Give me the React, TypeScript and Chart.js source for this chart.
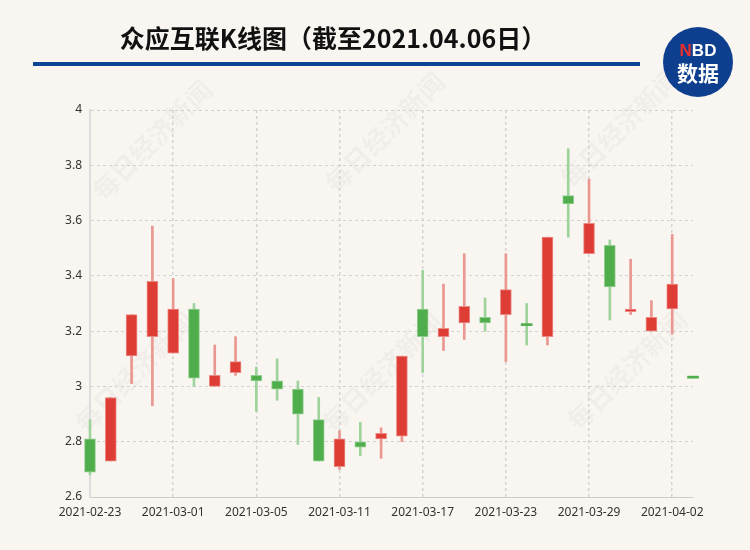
import React, { useEffect, useRef } from "react";
import { Chart, registerables } from "chart.js";

Chart.register(...registerables);

const dates = [
  "2021-02-23", "2021-02-24", "2021-02-25", "2021-02-26", "2021-03-01",
  "2021-03-02", "2021-03-03", "2021-03-04", "2021-03-05", "2021-03-08",
  "2021-03-09", "2021-03-10", "2021-03-11", "2021-03-12", "2021-03-15",
  "2021-03-16", "2021-03-17", "2021-03-18", "2021-03-19", "2021-03-22",
  "2021-03-23", "2021-03-24", "2021-03-25", "2021-03-26", "2021-03-29",
  "2021-03-30", "2021-03-31", "2021-04-01", "2021-04-02", "2021-04-06",
];
const openPrices = [
  2.81, 2.73, 3.11, 3.18, 3.12, 3.28, 3.0, 3.05, 3.04, 3.02,
  2.99, 2.88, 2.71, 2.8, 2.81, 2.82, 3.28, 3.18, 3.23, 3.25,
  3.26, 3.22, 3.18, 3.69, 3.48, 3.51, 3.27, 3.2, 3.28, 3.03,
];
const closePrices = [
  2.69, 2.96, 3.26, 3.38, 3.28, 3.03, 3.04, 3.09, 3.02, 2.99,
  2.9, 2.73, 2.81, 2.78, 2.83, 3.11, 3.18, 3.21, 3.29, 3.23,
  3.35, 3.22, 3.54, 3.66, 3.59, 3.36, 3.28, 3.25, 3.37, 3.03,
];
const highPrices = [
  2.88, 2.96, 3.26, 3.58, 3.39, 3.3, 3.15, 3.18, 3.07, 3.1,
  3.02, 2.96, 2.84, 2.87, 2.85, 3.11, 3.42, 3.37, 3.48, 3.32,
  3.48, 3.3, 3.54, 3.86, 3.75, 3.53, 3.46, 3.31, 3.55, 3.03,
];
const lowPrices = [
  2.68, 2.73, 3.01, 2.93, 3.12, 3.0, 3.0, 3.04, 2.91, 2.95,
  2.79, 2.73, 2.7, 2.75, 2.74, 2.8, 3.05, 3.13, 3.17, 3.2,
  3.09, 3.15, 3.15, 3.54, 3.48, 3.24, 3.26, 3.2, 3.19, 3.03,
];
const yMin = 2.6;
const yMax = 4;
const yStep = 0.2;
const labelEvery = 4;

const titleText = "众应互联K线图（截至2021.04.06日）";
const watermarkText = "每日经济新闻";

const UP = "#dd3d35";
const UP_BORDER = "#ec8a84";
const UP_WICK = "#ea9691";
const DOWN = "#4fad4c";
const DOWN_BORDER = "#93cf90";
const DOWN_WICK = "#9fd39c";

const isUp = (i: number) => closePrices[i] > openPrices[i];

const watermarkPlugin = {
  id: "watermarks",
  beforeDraw(chart: any) {
    const ctx = chart.ctx;
    const spots = [
      [152, 140], [385, 132], [620, 128],
      [135, 372], [382, 372], [627, 370],
    ];
    ctx.save();
    ctx.font = 'bold 26px "Noto Sans CJK SC"';
    ctx.fillStyle = "rgba(0,0,0,0.03)";
    ctx.textAlign = "center";
    ctx.textBaseline = "middle";
    for (const [x, y] of spots) {
      ctx.save();
      ctx.translate(x, y);
      ctx.rotate(-Math.PI / 4);
      ctx.fillText(watermarkText, 0, 0);
      ctx.restore();
    }
    ctx.restore();
  },
};

export default function App() {
  const canvasRef = useRef<HTMLCanvasElement | null>(null);

  useEffect(() => {
    if (!canvasRef.current) return;
    const bodies = dates.map((_, i) => [openPrices[i], closePrices[i]]);
    const wicks = dates.map((_, i) => [lowPrices[i], highPrices[i]]);
    const chart = new Chart(canvasRef.current, {
      type: "bar",
      data: {
        labels: dates,
        datasets: [
          {
            label: "body",
            data: bodies as any,
            order: 0,
            grouped: false,
            barThickness: 11,
            minBarLength: 2,
            borderSkipped: false,
            clip: false as any,
            backgroundColor: (c: any) => (isUp(c.dataIndex) ? UP : DOWN),
            borderColor: (c: any) => (isUp(c.dataIndex) ? UP_BORDER : DOWN_BORDER),
            borderWidth: (c: any) =>
              openPrices[c.dataIndex] === closePrices[c.dataIndex] ? 0 : 1,
          } as any,
          {
            label: "wick",
            data: wicks as any,
            order: 1,
            grouped: false,
            barThickness: 2,
            borderWidth: 0,
            clip: false as any,
            backgroundColor: (c: any) => (isUp(c.dataIndex) ? UP_WICK : DOWN_WICK),
          } as any,
        ],
      },
      options: {
        animation: false,
        responsive: false,
        maintainAspectRatio: false,
        layout: { padding: { left: 0, right: 57, top: 110, bottom: 0 } },
        plugins: {
          legend: { display: false },
          tooltip: { enabled: false },
          title: { display: false },
        },
        scales: {
          x: {
            type: "category",
            offset: false,
            afterFit: (s: any) => {
              s.height = 53;
            },
            grid: {
              offset: false,
              drawTicks: false,
              color: (c: any) =>
                c.index % labelEvery === 0 ? "#d4d4d4" : "rgba(0,0,0,0)",
              lineWidth: 1.5,
            },
            border: { display: true, color: "#cccccc", width: 1, dash: [3, 3] },
            ticks: {
              autoSkip: false,
              maxRotation: 0,
              minRotation: 0,
              padding: 8,
              color: "#333333",
              font: { family: '"Noto Sans", sans-serif', size: 12 },
              callback: (_v: any, i: number) =>
                i % labelEvery === 0 ? dates[i] : "",
            },
          },
          y: {
            type: "linear",
            min: yMin,
            max: yMax,
            afterFit: (s: any) => {
              s.width = 90;
            },
            grid: { drawTicks: false, color: "#d2d2d2", lineWidth: 1 },
            border: { display: true, color: "#dddddd", width: 2, dash: [3, 3] },
            ticks: {
              stepSize: yStep,
              padding: 8,
              color: "#333333",
              font: { family: '"Noto Sans", sans-serif', size: 12 },
              callback: (v: any) => String(Number(Number(v).toFixed(1))),
            },
          },
        },
      } as any,
      plugins: [watermarkPlugin],
    });
    return () => chart.destroy();
  }, []);

  return (
    <div
      style={{
        position: "absolute",
        left: 0,
        top: 0,
        width: 750,
        height: 550,
        background: "#f9f6f1",
        overflow: "hidden",
      }}
    >
      <canvas
        ref={canvasRef}
        width={750}
        height={550}
        style={{ position: "absolute", left: 0, top: 0, width: 750, height: 550 }}
      />
      <div
        style={{
          position: "absolute",
          left: 0,
          top: 22,
          width: 666,
          textAlign: "center",
          font: 'bold 25px "Noto Sans CJK SC", sans-serif',
          lineHeight: "31px",
          color: "#111111",
          whiteSpace: "nowrap",
        }}
      >
        {titleText}
      </div>
      <div
        style={{
          position: "absolute",
          left: 33,
          top: 62,
          width: 607,
          height: 4,
          background: "#0b4596",
        }}
      />
      <div
        style={{
          position: "absolute",
          left: 663,
          top: 27,
          width: 70,
          height: 70,
          borderRadius: "50%",
          background: "#0d3f8e",
        }}
      >
        <div
          style={{
            position: "absolute",
            left: 0,
            top: 14,
            width: 70,
            textAlign: "center",
            font: 'bold 17px "Liberation Sans", Arial, sans-serif',
            lineHeight: "19px",
            color: "#ffffff",
          }}
        >
          <span style={{ color: "#e8302c" }}>N</span>BD
        </div>
        <div
          style={{
            position: "absolute",
            left: 0,
            top: 32,
            width: 70,
            textAlign: "center",
            font: 'bold 21px "Noto Sans CJK SC", sans-serif',
            lineHeight: "26px",
            color: "#ffffff",
          }}
        >
          数据
        </div>
      </div>
    </div>
  );
}
